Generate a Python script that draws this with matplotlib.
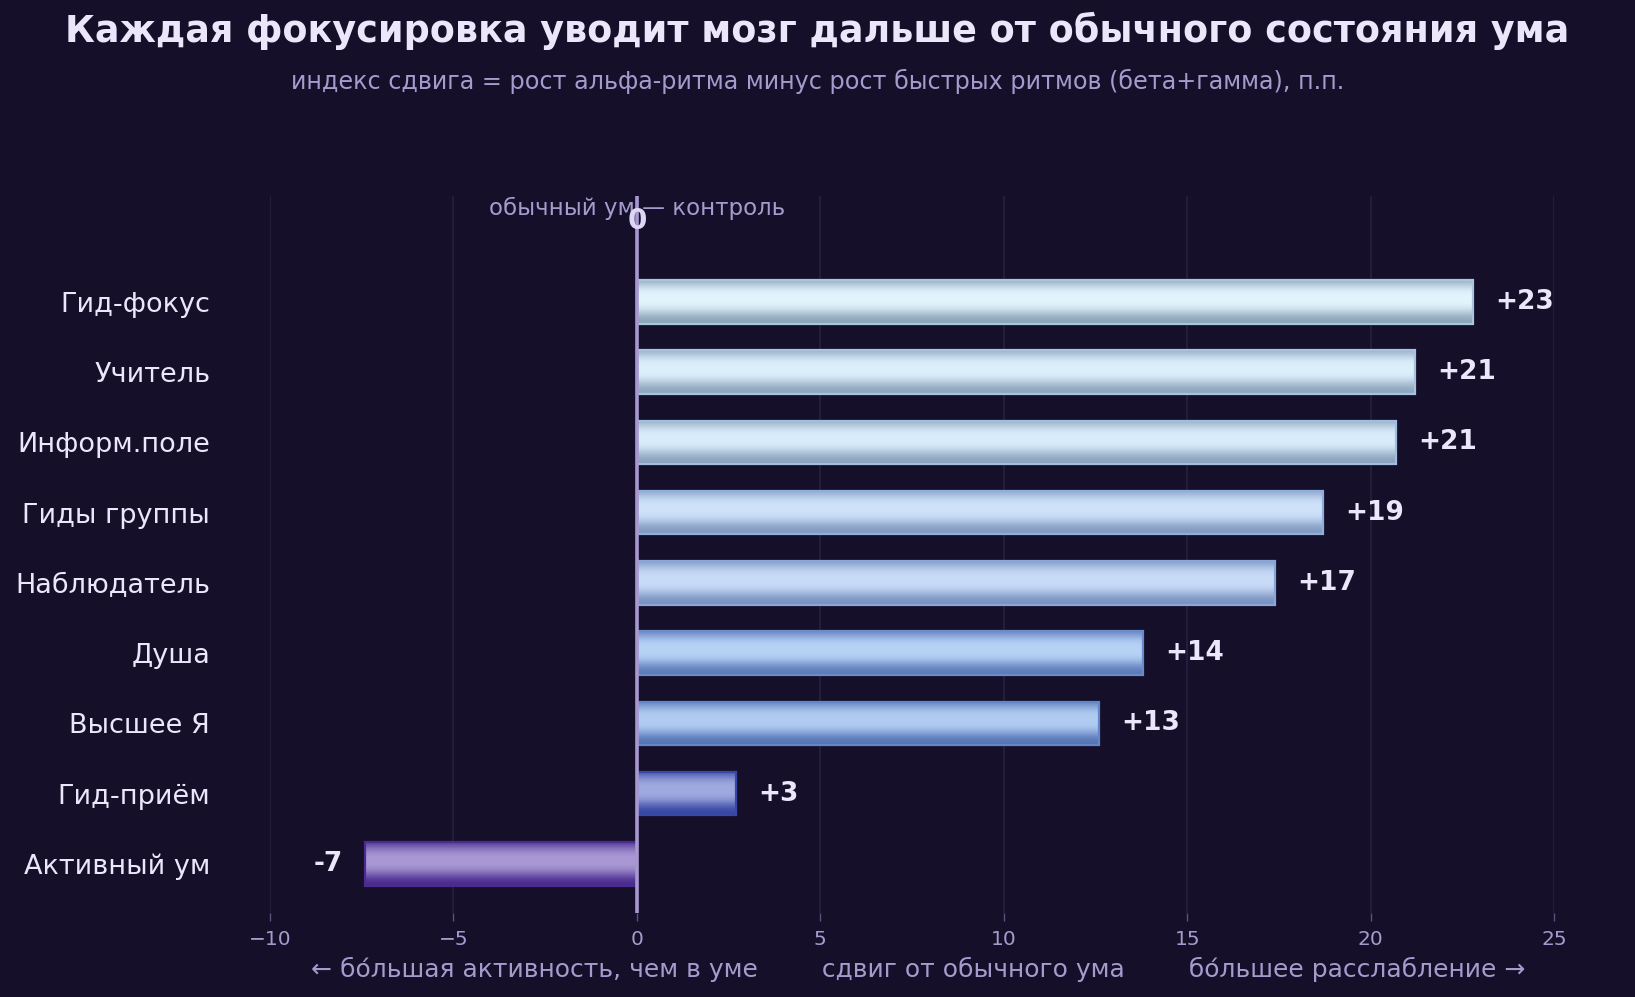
import numpy as np
import matplotlib
matplotlib.use("Agg")
import matplotlib.pyplot as plt
from matplotlib.colors import to_rgb

# ── 1. DATA ───────────────────────────────────────────────────────────────────
categories = ["Гид-фокус", "Учитель", "Информ.поле", "Гиды группы", "Наблюдатель",
              "Душа", "Высшее Я", "Гид-приём", "Активный ум"]
shift      = [22.8, 21.2, 20.7, 18.7, 17.4, 13.8, 12.6, 2.7, -7.4]
value_text = ["+23", "+21", "+21", "+19", "+17", "+14", "+13", "+3", "-7"]
xticks     = [-10, -5, 0, 5, 10, 15, 20, 25]

TITLE    = "Каждая фокусировка уводит мозг дальше от обычного состояния ума"
SUBTITLE = "индекс сдвига = рост альфа-ритма минус рост быстрых ритмов (бета+гамма), п.п."
XLABEL   = ("← бо́льшая активность, чем в уме        сдвиг от обычного ума"
            "        бо́льшее расслабление →")

# ── 2. STYLE ──────────────────────────────────────────────────────────────────
BG      = "#150f2a"
GRID    = "#262040"
MUTED   = "#a49ccc"
LIGHT   = "#ebe6fa"
centre_c = ["#e2f5fd", "#dcf0fc", "#d8ecfa", "#cfe2fa", "#c8dcf8",
            "#b8d2f6", "#b0ccf2", "#a0aae0", "#a898d4"]
edge_c   = ["#8aa2b8", "#8ca4bc", "#88a0bc", "#7f98c0", "#7890c0",
            "#5878b8", "#5272b4", "#3444a0", "#48288c"]
border_c = ["#a8c6de", "#a6c4e0", "#a0bee0", "#90aedc", "#88a6d8",
            "#6a8ccc", "#6286c8", "#3848a8", "#4a2c90"]

plt.rcParams["font.family"] = ["DejaVu Sans"]

# ── 3. PLOT ───────────────────────────────────────────────────────────────────
fig = plt.figure(figsize=(16.35, 9.97), dpi=100, facecolor=BG)
ax  = fig.add_axes([0.1651, 0.0843, 0.7854, 0.7191], facecolor=BG)

ypos = np.arange(len(categories))
bars = ax.barh(ypos, shift, height=0.62, facecolor="none", zorder=4)

# vertical gradient inside each bar
t = np.linspace(0, 1, 200)
w = np.exp(-np.abs((t - 0.42) / 0.36) ** 3)
for rect, cc, ec, bc in zip(bars, centre_c, edge_c, border_c):
    c1, c0 = np.array(to_rgb(cc)), np.array(to_rgb(ec))
    grad = (c0[None, :] * (1 - w[:, None]) + c1[None, :] * w[:, None])[:, None, :]
    x0, y0 = rect.get_x(), rect.get_y()
    wd, ht = rect.get_width(), rect.get_height()
    im = ax.imshow(grad, extent=(x0, x0 + wd, y0 + ht, y0), origin="upper",
                   aspect="auto", zorder=3, interpolation="bilinear")
    im.set_clip_path(rect)
    rect.set_edgecolor(bc)
    rect.set_linewidth(1.6)

# value labels
for rect, v, txt in zip(bars, shift, value_text):
    yc = rect.get_y() + rect.get_height() / 2
    off = 16 if v >= 0 else -16
    ax.annotate(txt, (v, yc), xytext=(off, 0), textcoords="offset points",
                ha="left" if v >= 0 else "right", va="center",
                fontsize=19, fontweight="bold", color=LIGHT, zorder=6)

# zero line + its labels
ax.axvline(0, color="#a898d0", lw=2.6, zorder=5)
ax.text(0, -1.34, "обычный ум — контроль", ha="center", va="center",
        fontsize=16.5, color=MUTED, zorder=6)
ax.text(0, -1.15, "0", ha="center", va="center", fontsize=20,
        fontweight="bold", color="#ddd6f4", zorder=7)

ax.set_xlim(-10, 25)
ax.set_ylim(8.7, -1.51)
ax.set_xticks(xticks)
ax.set_xticklabels([f"{x}".replace("-", "−") for x in xticks])
ax.set_yticks(ypos)
ax.set_yticklabels(categories)
ax.tick_params(axis="y", length=0, pad=43, labelsize=19.5, labelcolor=LIGHT)
ax.tick_params(axis="x", length=6, width=1, color="#5a5080", pad=6,
               labelsize=14.5, labelcolor=MUTED)
ax.grid(axis="x", color=GRID, lw=1.2, zorder=0)
ax.set_axisbelow(True)
for s in ax.spines.values():
    s.set_visible(False)

ax.set_xlabel(XLABEL, fontsize=18, color=MUTED, labelpad=5)
ax.xaxis.set_label_coords(0.505, -0.061)

fig.text(0.5, 0.969, TITLE, ha="center", va="center", fontsize=26.3,
         fontweight="bold", color=LIGHT)
fig.text(0.5, 0.918, SUBTITLE, ha="center", va="center", fontsize=17.2,
         color=MUTED)

plt.savefig("out.png", dpi=100, facecolor=BG)
